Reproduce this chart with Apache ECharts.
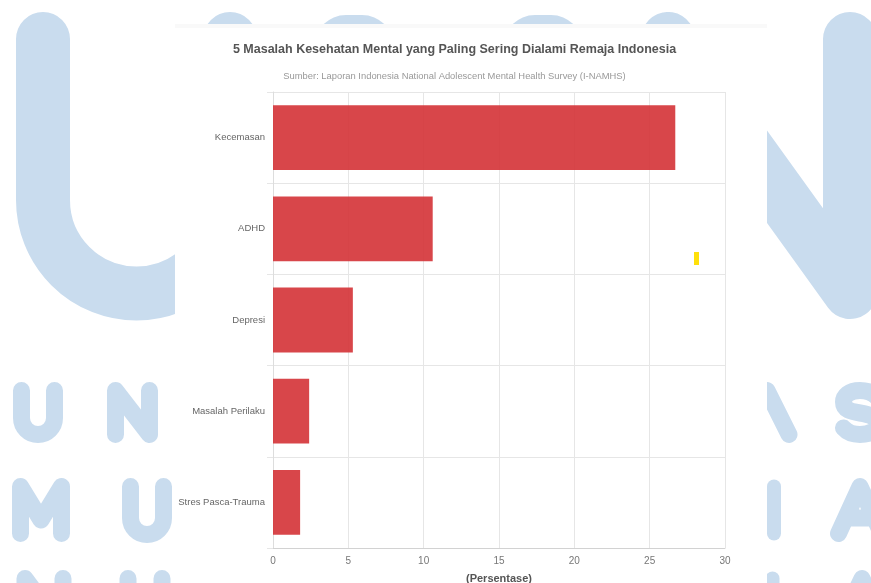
<!DOCTYPE html>
<html>
<head>
<meta charset="utf-8">
<script src="https://cdn.jsdelivr.net/npm/echarts@6/dist/echarts.min.js"></script>
<style>
  html, body { margin: 0; padding: 0; background: #ffffff; overflow: hidden; }
  #wrap { position: relative; width: 871px; height: 583px; }
  #wm, #panel, #chart { position: absolute; }
  #wm { left: 0; top: 0; }
  #panel { left: 175px; top: 24px; width: 592px; height: 559px; background: #ffffff; border-top: 4px solid #f9f9f9; box-sizing: border-box; }
  #chart { left: 0; top: 0; width: 871px; height: 583px; }
</style>
</head>
<body>
<div id="wrap">
<svg id="wm" width="871" height="583" xmlns="http://www.w3.org/2000/svg">
  <g fill="none" stroke="#c9dcee" stroke-linecap="round" stroke-linejoin="round">
    <path d="M43 39 L43 200 A93.5 93.5 0 0 0 230 200 L230 39" stroke-width="54"/>
    <path d="M668 39 L668 200 M668 39 L850 292 L850 39" stroke-width="54"/>
    <path d="M21.5 390.5 L21.5 418 A16.5 16.5 0 0 0 54.5 418 L54.5 390.5" stroke-width="17"/>
    <path d="M115.5 434.5 L115.5 390.5 L149.5 434.5 L149.5 390.5" stroke-width="17"/>
    <path d="M745 434.5 L767 390.5 L789 434.5" stroke-width="17"/>
    <path d="M877 397 C872 392 866 390.5 860 390.5 C849 390.5 843.5 396 843.5 402 C843.5 410 851 411.5 860 413 C870 414.5 877.5 417 877.5 424 C877.5 430.5 870 434.5 860 434.5 C853 434.5 847 432 843.5 428" stroke-width="17"/>
    <path d="M20.5 533.5 L20.5 486.5 L41 520 L61.5 486.5 L61.5 533.5" stroke-width="17"/>
    <path d="M130.5 486.5 L130.5 518 A16.5 16.5 0 0 0 163.5 518 L163.5 486.5" stroke-width="17"/>
    <path d="M774 486.5 L774 533.5" stroke-width="14"/>
    <path d="M838.5 533.5 L860 486.5 L881.5 533.5 M846 518 L874 518" stroke-width="17"/>
    <path d="M25 630 L25 578.5 L63 630 L63 578.5" stroke-width="17"/>
    <path d="M128 578.5 L128 620 M162 578.5 L162 620" stroke-width="17"/>
    <path d="M772.5 578.5 L772.5 630" stroke-width="14"/>
    <path d="M838 630 L862 578.5 L886 630" stroke-width="17"/>
  </g>
  <g fill="#c9dcee">
    <rect x="314" y="15" width="80" height="80" rx="32" ry="32"/>
    <rect x="503" y="15" width="80" height="80" rx="32" ry="32"/>
  </g>
</svg>
<div id="panel"></div>
<div id="chart"></div>
</div>
<script>
// ---- data ----
const titleText = '5 Masalah Kesehatan Mental yang Paling Sering Dialami Remaja Indonesia';
const subtitleText = 'Sumber: Laporan Indonesia National Adolescent Mental Health Survey (I-NAMHS)';
const categories = ['Kecemasan', 'ADHD', 'Depresi', 'Masalah Perilaku', 'Stres Pasca-Trauma'];
const values = [26.7, 10.6, 5.3, 2.4, 1.8];
const axisName = '(Persentase)';
const xMin = 0, xMax = 30, xStep = 5;

// ---- styles ----
const FONT = "'Liberation Sans', Arial, Helvetica, sans-serif";
const GRID = '#e6e6e6';

const chart = echarts.init(document.getElementById('chart'), null, { renderer: 'canvas' });
chart.setOption({
  animation: false,
  backgroundColor: 'transparent',
  textStyle: { fontFamily: FONT },
  graphic: {
    elements: [
      { type: 'text', z: 10, silent: true, x: 454.5, y: 50,
        style: { text: titleText, align: 'center', verticalAlign: 'middle', fill: '#555555',
          font: 'bold 12.5px ' + FONT } },
      { type: 'text', z: 10, silent: true, x: 454.5, y: 76,
        style: { text: subtitleText, align: 'center', verticalAlign: 'middle', fill: '#999999',
          font: '9.4px ' + FONT } },
      { type: 'rect', z: 10, silent: true, shape: { x: 694, y: 252, width: 5, height: 13 },
        style: { fill: '#ffe00a' } }
    ]
  },
  grid: { left: 273, right: 146, top: 92, bottom: 35, containLabel: false, outerBoundsMode: 'none' },
  xAxis: {
    type: 'value', min: xMin, max: xMax, interval: xStep,
    name: axisName, nameLocation: 'middle', nameGap: 25,
    nameTextStyle: { color: '#555555', fontWeight: 'bold', fontSize: 11, fontFamily: FONT },
    axisLine: { show: true, lineStyle: { color: '#d2d2d2', width: 1 } },
    axisTick: { show: false },
    axisLabel: { color: '#777777', fontSize: 10, margin: 8, fontFamily: FONT },
    splitLine: { show: true, lineStyle: { color: GRID, width: 1 } }
  },
  yAxis: {
    type: 'category', data: categories, inverse: true,
    axisLine: { show: true, lineStyle: { color: '#dddddd', width: 1 } },
    axisTick: { show: true, length: 6, lineStyle: { color: GRID } },
    axisLabel: { color: '#666666', fontSize: 9.5, margin: 8, fontFamily: FONT },
    splitLine: { show: true, lineStyle: { color: GRID, width: 1 } }
  },
  series: [{
    type: 'bar', data: values, barCategoryGap: '29%',
    itemStyle: { color: 'rgba(212, 50, 54, 0.9)' }
  }]
});
</script>
</body>
</html>
